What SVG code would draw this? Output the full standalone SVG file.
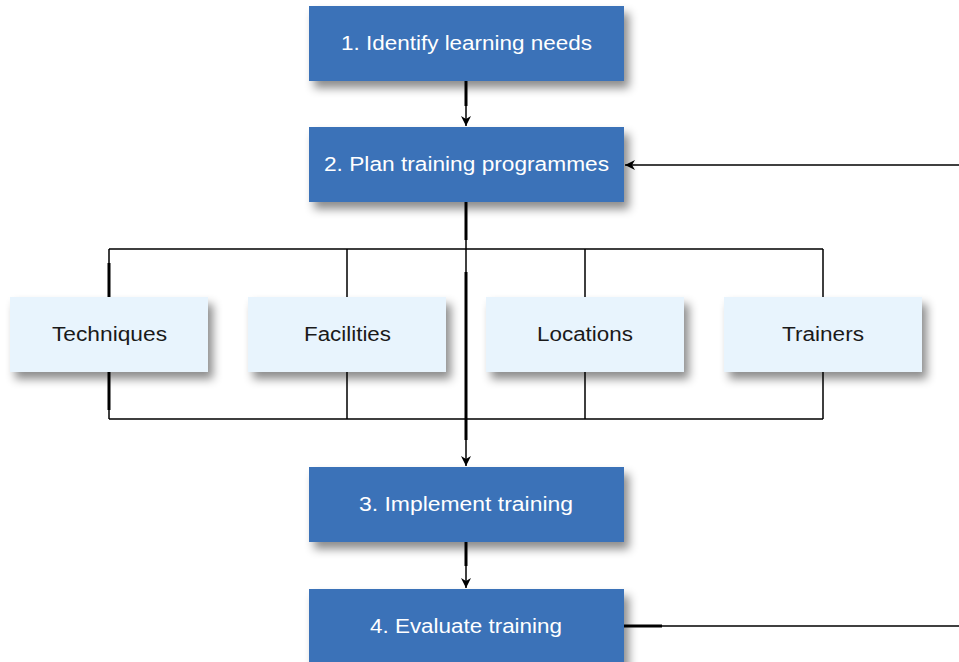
<svg xmlns="http://www.w3.org/2000/svg" width="959" height="662" viewBox="0 0 959 662">
<defs>
<filter id="sh" x="-10%" y="-20%" width="130%" height="160%">
<feDropShadow dx="5" dy="7" stdDeviation="5" flood-color="#000" flood-opacity="0.45"/>
</filter>
<marker id="ah" markerWidth="12" markerHeight="12" refX="10" refY="5" orient="auto" markerUnits="userSpaceOnUse">
<path d="M0,0 L10,5 L0,10 L3,5 Z" fill="#000"/>
</marker>
<style>
.main{fill:#3a72b8;filter:url(#sh)}
.sub{fill:#e8f4fd;filter:url(#sh)}
.tw{font-family:"Liberation Sans",Arial,sans-serif;font-size:20px;fill:#fff;text-anchor:middle}
.td{font-family:"Liberation Sans",Arial,sans-serif;font-size:20px;fill:#1a1a1a;text-anchor:middle}
.ln{stroke:#000;stroke-width:1.5;fill:none}
.lt{stroke:#000;stroke-width:3;fill:none}
</style>
</defs>
<rect width="959" height="662" fill="#fff"/>
<g id="connectors">
<path class="ln" d="M109,249 H823 M109,419 H823"/>
<path class="lt" d="M109,263 V297 M109,372 V410"/>
<path class="ln" d="M109,249 V297 M109,372 V419"/>
<path class="ln" d="M347,249 V297 M347,372 V419"/>
<path class="ln" d="M585,249 V297 M585,372 V419"/>
<path class="ln" d="M823,249 V297 M823,372 V419"/>
<path class="lt" d="M466,81 V106"/>
<path class="ln" d="M466,100 V126" marker-end="url(#ah)"/>
<path class="lt" d="M466,202 V240"/>
<path class="lt" d="M466,272 V440"/>
<path class="ln" d="M466,202 V466" marker-end="url(#ah)"/>
<path class="lt" d="M466,542 V566"/>
<path class="ln" d="M466,560 V588" marker-end="url(#ah)"/>
<path class="lt" d="M624,626 H662"/>
<path class="ln" d="M624,626 H959" stroke="#444"/>
<path class="ln" d="M959,165 H625" marker-end="url(#ah)"/>
</g>
<g id="n1"><rect class="main" x="309" y="6" width="315" height="75"/><text class="tw" x="466.5" y="50" textLength="251" lengthAdjust="spacingAndGlyphs">1. Identify learning needs</text></g>
<g id="n2"><rect class="main" x="309" y="127" width="315" height="75"/><text class="tw" x="466.5" y="171" textLength="285" lengthAdjust="spacingAndGlyphs">2. Plan training programmes</text></g>
<g id="techniques"><rect class="sub" x="10" y="297" width="198" height="75"/><text class="td" x="109.5" y="341" textLength="115" lengthAdjust="spacingAndGlyphs">Techniques</text></g>
<g id="facilities"><rect class="sub" x="248" y="297" width="198" height="75"/><text class="td" x="347.5" y="341" textLength="87" lengthAdjust="spacingAndGlyphs">Facilities</text></g>
<g id="locations"><rect class="sub" x="486" y="297" width="198" height="75"/><text class="td" x="585" y="341" textLength="96" lengthAdjust="spacingAndGlyphs">Locations</text></g>
<g id="trainers"><rect class="sub" x="724" y="297" width="198" height="75"/><text class="td" x="823" y="341" textLength="82" lengthAdjust="spacingAndGlyphs">Trainers</text></g>
<g id="n3"><rect class="main" x="309" y="467" width="315" height="75"/><text class="tw" x="466" y="511" textLength="214" lengthAdjust="spacingAndGlyphs">3. Implement training</text></g>
<g id="n4"><rect class="main" x="309" y="589" width="315" height="80"/><text class="tw" x="466" y="633" textLength="192" lengthAdjust="spacingAndGlyphs">4. Evaluate training</text></g>
</svg>
